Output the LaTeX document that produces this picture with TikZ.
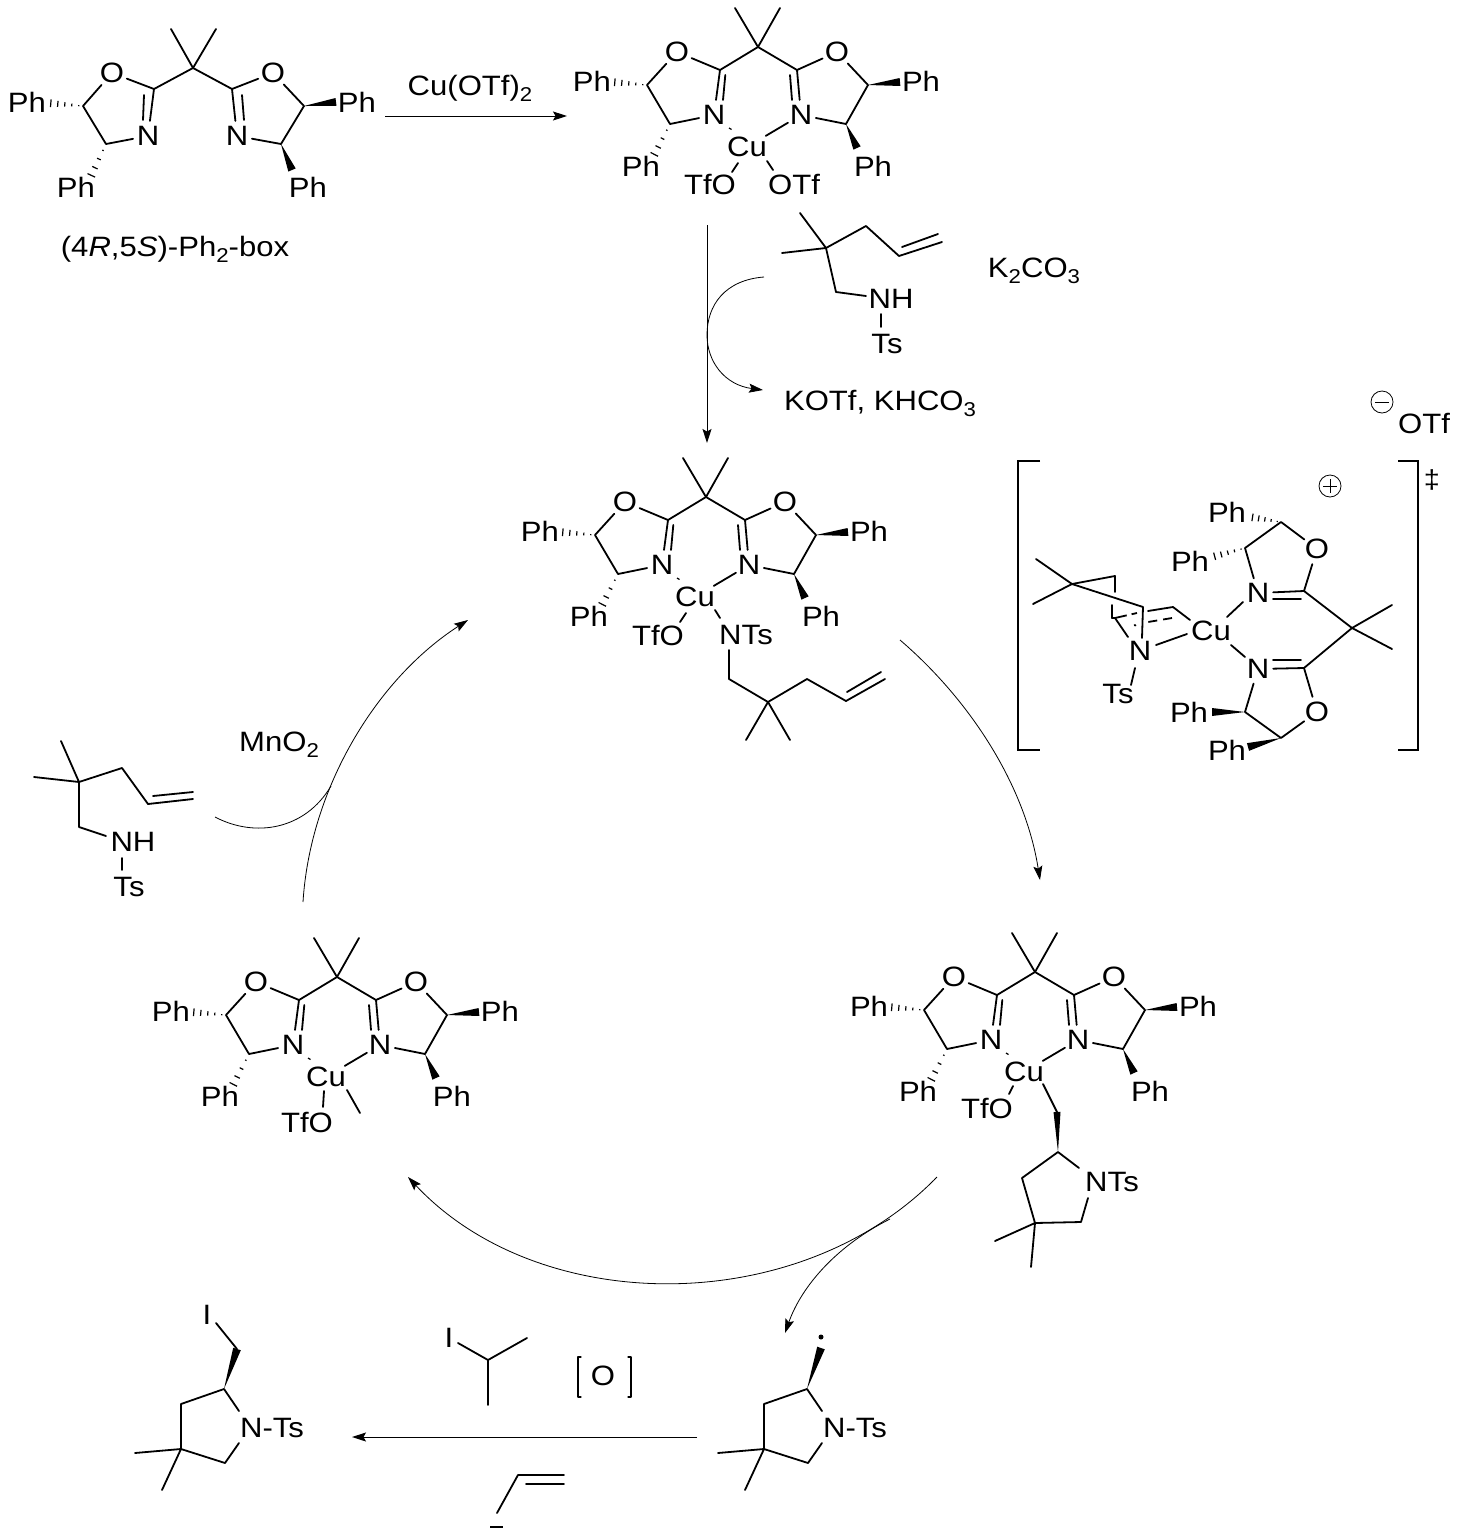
\documentclass[tikz,border=0pt]{standalone}
\usepackage{fontspec}
\setmainfont[FakeStretch=1.11]{Liberation Sans}
\usetikzlibrary{calc,arrows.meta}
\newcommand\chemsub[1]{\raisebox{-6pt}{\fontsize{20}{20}\selectfont #1}}
\newcommand\Cc[2]{\coordinate (#1) at (#2);}
\newcommand\hashbond[2]{\foreach \t/\w in {0.12/0.6,0.32/1.4,0.52/2.2,0.72/3.0,0.92/3.8}{\draw[hashline] ($(#1)!\t!(#2)!\w pt!90:(#2)$) -- ($(#1)!\t!(#2)!\w pt!-90:(#2)$);}}
\newcommand\hashshort[2]{\foreach \t/\w in {0.2/0.8,0.47/2.0,0.74/3.0,0.98/4.2}{\draw[hashline] ($(#1)!\t!(#2)!\w pt!90:(#2)$) -- ($(#1)!\t!(#2)!\w pt!-90:(#2)$);}}
\newcommand\wedgebond[2]{\fill (#1) -- ($(#2)!4pt!90:(#1)$) -- ($(#2)!4pt!-90:(#1)$) -- cycle;}
\newcommand\boxcore[3]{%
\begin{scope}[shift={(#1,#2)}]
\node[atom] (#3OL) at (677,52) {O};
\node[atom] (#3OR) at (837,52) {O};
\node[atom] (#3NL) at (714,115) {N};
\node[atom] (#3NR) at (801,115) {N};
\node[lab] (#3PhA) at (592,81) {Ph};
\node[lab] (#3PhB) at (921,81) {Ph};
\node[lab] (#3PhC) at (641,166) {Ph};
\node[lab] (#3PhD) at (873,166) {Ph};
\node[lab,inner sep=1pt] (#3Cu) at (747,147) {Cu};
\Cc{#3C}{758,47}\Cc{#3MA}{735,8}\Cc{#3MB}{780,8}
\Cc{#3CL}{720,70}\Cc{#3CR}{797,70}
\Cc{#3FL}{647,85}\Cc{#3GL}{670,124}
\Cc{#3FR}{868,85}\Cc{#3GR}{846,124}
\Cc{#3dLa}{725.3,75}\Cc{#3dLb}{723,100}
\Cc{#3dRa}{790,75}\Cc{#3dRb}{792,100}
\Cc{#3wA}{900,82}\Cc{#3wB}{857,148}
\Cc{#3hA}{612,82}\Cc{#3hB}{654,155}
\Cc{#3daA}{729,128}\Cc{#3daB}{731.5,129.5}
\draw[bond] (#3MA) -- (#3C) -- (#3MB);
\draw[bond] (#3CL) -- (#3C) -- (#3CR);
\draw[bond] (#3CL) -- (#3OL) -- (#3FL) -- (#3GL) -- (#3NL) -- (#3CL);
\draw[bond] (#3CR) -- (#3OR) -- (#3FR) -- (#3GR) -- (#3NR) -- (#3CR);
\draw[bond] (#3dLa) -- (#3dLb);
\draw[bond] (#3dRa) -- (#3dRb);
\draw[bond] (#3NR) -- (#3Cu);
\draw[hashline] (#3daA) -- (#3daB);
\wedgebond{#3FR}{#3wA}
\wedgebond{#3GR}{#3wB}
\hashbond{#3FL}{#3hA}
\hashshort{#3GL}{#3hB}
\end{scope}}
\tikzset{
 bond/.style={line width=1.8pt,line cap=round,line join=round},
 hashline/.style={line width=1.2pt},
 atom/.style={circle,inner sep=0pt,minimum size=30pt,font=\fontsize{28}{30}\selectfont},
 lab/.style={inner sep=0pt,font=\fontsize{28}{30}\selectfont},
 rxn/.style={line width=1pt,-{Stealth[length=14pt,width=9pt,inset=2.5pt]}},
 arcline/.style={line width=0.8pt},
 arcarrow/.style={line width=0.8pt,-{Stealth[length=14pt,width=9pt,inset=2.5pt]}},
 chg/.style={circle,draw,line width=0.8pt,minimum size=22pt,inner sep=0pt},
}
\begin{document}
\begin{tikzpicture}[x=1pt,y=-1pt]
\useasboundingbox (0,0) rectangle (1459,1537);
\fill[white] (0,0) rectangle (1459,1537);
% free ligand
\node[atom] (fOL) at (112,73) {O};
\node[atom] (fOR) at (273,73) {O};
\node[atom] (fNL) at (148,136) {N};
\node[atom] (fNR) at (237,136) {N};
\node[lab] (fPhA) at (27,102) {Ph};
\node[lab] (fPhB) at (357,102) {Ph};
\node[lab] (fPhC) at (76,187) {Ph};
\node[lab] (fPhD) at (308,187) {Ph};
\Cc{fC}{193,68}\Cc{fMA}{171,29}\Cc{fMB}{216,29}\Cc{fCL}{154,89}\Cc{fCR}{232,89}
\Cc{fFL}{83,106}\Cc{fGL}{106,144}\Cc{fFR}{304,106}\Cc{fGR}{281,144}
\Cc{fdA}{144,95}\Cc{fdB}{143,120}\Cc{fdC}{242,95}\Cc{fdD}{244,120}
\Cc{fwA}{336,102}\Cc{fwB}{292,170}\Cc{fhA}{48,103}\Cc{fhB}{91,176}
\draw[bond] (fMA) -- (fC) -- (fMB);
\draw[bond] (fCL) -- (fC) -- (fCR);
\draw[bond] (fCL) -- (fOL) -- (fFL) -- (fGL) -- (fNL) -- (fCL);
\draw[bond] (fCR) -- (fOR) -- (fFR) -- (fGR) -- (fNR) -- (fCR);
\draw[bond] (fdA) -- (fdB);
\draw[bond] (fdC) -- (fdD);
\wedgebond{fFR}{fwA}
\wedgebond{fGR}{fwB}
\hashbond{fFL}{fhA}
\hashshort{fGL}{fhB}
\node[lab] (fname) at (175,249) {(4\textit{R},5\textit{S})-Ph\chemsub{2}-box};
% top complex
\boxcore{0}{0}{t}
\node[lab] (tTfO) at (710,185) {TfO};
\node[lab] (tOTf) at (794,185) {OTf};
\Cc{taA}{738,163}\Cc{taB}{732,172}\Cc{tbA}{767,161}\Cc{tbB}{773,170}
\draw[bond] (taA) -- (taB);
\draw[bond] (tbA) -- (tbB);
% reagents at top
\node[lab] (cuotf) at (470,88) {Cu(OTf)\chemsub{2}};
\Cc{arAa}{385,116}\Cc{arAb}{567,116}
\draw[rxn] (arAa) -- (arAb);
\node[lab] (amNH) at (891,299) {NH};
\node[lab] (amTs) at (887,344) {Ts};
\node[lab] (kco) at (1034,271) {K\chemsub{2}CO\chemsub{3}};
\node[lab] (kotf) at (880,403) {KOTf, KHCO\chemsub{3}};
\Cc{aA}{782,253}\Cc{aB}{826,248}\Cc{aC}{800,213}\Cc{aD}{866,226}\Cc{aE}{899,256}\Cc{aF}{942,242}
\Cc{aG}{902,247}\Cc{aH}{938,234}\Cc{aI}{836,292}\Cc{aJ}{866,296}\Cc{aK}{881,314}\Cc{aL}{881,327}
\draw[bond] (aA) -- (aB) -- (aC);
\draw[bond] (aB) -- (aD) -- (aE) -- (aF);
\draw[bond] (aG) -- (aH);
\draw[bond] (aB) -- (aI) -- (aJ);
\draw[bond] (aK) -- (aL);
\Cc{arBa}{707,225}\Cc{arBb}{707,443}
\draw[rxn] (arBa) -- (arBb);
\Cc{arCa}{764,277}\Cc{arCm}{707,335}\Cc{arCb}{763,390}
\draw[arcarrow] (arCa) .. controls (725,280) and (707,305) .. (arCm) .. controls (707,362) and (725,385) .. (arCb);
% middle complex
\boxcore{-52}{450}{m}
\node[lab] (mTfO) at (658,635) {TfO};
\node[lab] (mNTs) at (746,635) {NTs};
\Cc{mA}{686,613}\Cc{mB}{680,622}\Cc{mC}{715,610}\Cc{mD}{720,618}
\Cc{mE}{729,650}\Cc{mF}{729,679}\Cc{mG}{768,702}\Cc{mH}{746,740}\Cc{mI}{790,740}
\Cc{mJ}{807,679}\Cc{mK}{846,701}\Cc{mL}{885,679}\Cc{mM}{847,692}\Cc{mN}{881,672}
\draw[bond] (mA) -- (mB);
\draw[bond] (mC) -- (mD);
\draw[bond] (mE) -- (mF) -- (mG) -- (mH);
\draw[bond] (mG) -- (mI);
\draw[bond] (mG) -- (mJ) -- (mK) -- (mL);
\draw[bond] (mM) -- (mN);
% transition state
\node[chg] (minusc) at (1382,402) {};
\draw[line width=0.8pt] ($(minusc.center)+(-7,0)$) -- ($(minusc.center)+(7,0)$);
\node[lab] (sOTf) at (1424,423) {OTf};
\node[chg] (plusc) at (1330,486) {};
\draw[line width=0.8pt] ($(plusc.center)+(-7,0)$) -- ($(plusc.center)+(7,0)$);
\draw[line width=0.8pt] ($(plusc.center)+(0,-7)$) -- ($(plusc.center)+(0,7)$);
\node[lab,font=\fontsize{26}{28}\selectfont] (dagger) at (1432,480) {‡};
\Cc{brA}{1040,461}\Cc{brB}{1018,461}\Cc{brC}{1018,750}\Cc{brD}{1040,750}
\Cc{brE}{1398,461}\Cc{brF}{1418,461}\Cc{brG}{1418,750}\Cc{brH}{1398,750}
\draw[bond,line cap=butt,line join=miter] (brA) -- (brB) -- (brC) -- (brD);
\draw[bond,line cap=butt,line join=miter] (brE) -- (brF) -- (brG) -- (brH);
\node[lab] (sPhA) at (1227,512) {Ph};
\node[lab] (sPhB) at (1190,561) {Ph};
\node[atom] (sOA) at (1317,549) {O};
\node[atom] (sNA) at (1258,593) {N};
\node[atom] (sNB) at (1258,669) {N};
\node[atom] (sOB) at (1317,712) {O};
\node[lab] (sPhC) at (1189,712) {Ph};
\node[lab] (sPhD) at (1227,750) {Ph};
\node[lab] (sCu) at (1211,631) {Cu};
\node[lab] (sNC) at (1140,651) {N};
\node[lab] (sTs) at (1118,694) {Ts};
\Cc{sF}{1281,522}\Cc{sG}{1245,548}\Cc{sK}{1304,591}\Cc{sC}{1352,628}\Cc{sMA}{1392,605}\Cc{sMB}{1392,649}
\Cc{sL}{1304,668}\Cc{sH}{1245,712}\Cc{sI}{1281,738}
\Cc{sdA}{1273,599}\Cc{sdB}{1301,599}\Cc{sdC}{1273,660}\Cc{sdD}{1301,660}
\Cc{shA}{1250,517}\Cc{shB}{1212,557}\Cc{swA}{1212,712}\Cc{swB}{1248,747}
\Cc{sbA}{1227,617}\Cc{sbB}{1243,602}\Cc{sbC}{1231,645}\Cc{sbD}{1245,657}\Cc{sbE}{1156,645}\Cc{sbF}{1187,634}
\draw[bond] (sF) -- (sOA) -- (sK) -- (sNA) -- (sG) -- (sF);
\draw[bond] (sI) -- (sOB) -- (sL) -- (sNB) -- (sH) -- (sI);
\draw[bond] (sdA) -- (sdB);
\draw[bond] (sdC) -- (sdD);
\draw[bond] (sMA) -- (sC) -- (sMB);
\draw[bond] (sK) -- (sC) -- (sL);
\draw[bond] (sbA) -- (sbB);
\draw[bond] (sbC) -- (sbD);
\draw[bond] (sbE) -- (sbF);
\hashbond{sF}{shA}
\hashbond{sG}{shB}
\wedgebond{sH}{swA}
\wedgebond{sI}{swB}
\Cc{qA}{1036,559}\Cc{qB}{1072,584}\Cc{qC}{1033,604}\Cc{qD}{1115,576}\Cc{qE}{1115,592}
\Cc{qF}{1112,605}\Cc{qG}{1112,618}\Cc{qH}{1143,607}\Cc{qI}{1142,638}\Cc{qJ}{1148,611}\Cc{qK}{1173,607}\Cc{qL}{1190,620}
\Cc{qM}{1148,622}\Cc{qN}{1172,618}\Cc{qO}{1115,618}\Cc{qP}{1137,613}\Cc{qQ}{1128,637}\Cc{qR}{1135,668}\Cc{qS}{1131,685}
\Cc{qT}{1134.5,625}\Cc{qU}{1135.5,625.5}
\draw[bond] (qA) -- (qB) -- (qC);
\draw[bond] (qB) -- (qD) -- (qE);
\draw[bond] (qF) -- (qG);
\draw[bond] (qB) -- (qH) -- (qI);
\draw[bond] (qJ) -- (qK) -- (qL);
\draw[bond,dash pattern=on 9pt off 6pt,line cap=butt] (qN) -- (qM);
\draw[bond] (qG) -- (qO);
\draw[bond,dash pattern=on 12pt off 5pt,line cap=butt] (qO) -- (qP);
\draw[bond] (qO) -- (qQ);
\draw[bond] (qT) -- (qU);
\draw[bond] (qR) -- (qS);
% right arc
\Cc{arDa}{900,640}\Cc{arDb}{1040,880}
\draw[arcarrow] (arDa) .. controls (970,700) and (1025,785) .. (arDb);
% left arcs
\Cc{arEa}{303,902}\Cc{arEb}{468,620}
\draw[arcarrow] (arEa) .. controls (310,790) and (375,680) .. (arEb);
\Cc{arFa}{215,817}\Cc{arFb}{331,786}
\draw[arcline] (arFa) .. controls (255,838) and (305,830) .. (arFb);
\node[lab] (mno) at (279,745) {MnO\chemsub{2}};
% left amine
\node[lab] (lNH) at (133,842) {NH};
\node[lab] (lTs) at (129,887) {Ts};
\Cc{lA}{34,777}\Cc{lB}{79,782}\Cc{lC}{61,741}\Cc{lD}{122,768}\Cc{lE}{148,804}\Cc{lF}{193,799}
\Cc{lG}{153,796}\Cc{lH}{193,792}\Cc{lI}{79,827}\Cc{lJ}{106,836}\Cc{lK}{122,858}\Cc{lL}{122,870}
\draw[bond] (lA) -- (lB) -- (lC);
\draw[bond] (lB) -- (lD) -- (lE) -- (lF);
\draw[bond] (lG) -- (lH);
\draw[bond] (lB) -- (lI) -- (lJ);
\draw[bond] (lK) -- (lL);
% bottom right complex
\boxcore{277}{925}{r}
\node[lab] (rTfO) at (987,1108) {TfO};
\node[lab] (rNTs) at (1112,1182) {NTs};
\Cc{rA}{1013,1086}\Cc{rB}{1009,1094}\Cc{rD}{1043,1084}\Cc{rE}{1057,1112}\Cc{rF}{1058,1152}
\Cc{rG}{1079,1168}\Cc{rH}{1088,1198}\Cc{rI}{1081,1222}\Cc{rJ}{1035,1223}\Cc{rK}{1022,1178}\Cc{rL}{995,1241}\Cc{rM}{1031,1267}
\draw[bond] (rA) -- (rB);
\draw[bond] (rD) -- (rE);
\fill (rF) -- ($(rE)!3.5pt!90:(rF)$) -- ($(rE)!3.5pt!-90:(rF)$) -- cycle;
\draw[bond] (rG) -- (rF) -- (rK) -- (rJ) -- (rI) -- (rH);
\draw[bond] (rL) -- (rJ) -- (rM);
% bottom left complex
\boxcore{-421}{930}{b}
\node[lab] (bTfO) at (307,1122) {TfO};
\Cc{bA}{324,1091}\Cc{bB}{323,1107}\Cc{bD}{347,1090}\Cc{bE}{360,1113}
\draw[bond] (bA) -- (bB);
\draw[bond] (bD) -- (bE);
% big bottom arcs
\Cc{arGa}{937,1177}\Cc{arGb}{408,1177}
\draw[arcarrow] (arGa) .. controls (800,1318) and (540,1318) .. (arGb);
\Cc{arHa}{890,1219}\Cc{arHb}{785,1333}
\draw[arcarrow] (arHa) .. controls (838,1245) and (802,1285) .. (arHb);
% bottom pyrrolidines
\foreach \p/\dx in {u/0,v/583}{
\begin{scope}[xshift=\dx pt]
\node[lab] (\p Lb) at (272,1428) {N-Ts};
\Cc{\p A}{224,1389}\Cc{\p B}{181,1404}\Cc{\p C}{181,1449}\Cc{\p D}{225,1463}
\Cc{\p E}{239,1443}\Cc{\p F}{239,1411}\Cc{\p G}{135,1453}\Cc{\p H}{162,1490}
\draw[bond] (\p F) -- (\p A) -- (\p B) -- (\p C) -- (\p D) -- (\p E);
\draw[bond] (\p G) -- (\p C) -- (\p H);
\end{scope}}
\Cc{uW}{237,1349}\Cc{uX}{216,1323}
\node[lab] (uI) at (207,1315) {I};
\fill (uA) -- ($(uW)!4pt!90:(uA)$) -- ($(uW)!4pt!-90:(uA)$) -- cycle;
\draw[bond] (uX) -- (uW);
\Cc{vW}{821,1348}
\fill (vA) -- ($(vW)!4pt!90:(vA)$) -- ($(vW)!4pt!-90:(vA)$) -- cycle;
\Cc{vDot}{821,1337}
\fill (vDot) circle (2.5pt);
% bottom arrow and reagents
\Cc{arIa}{697,1437}\Cc{arIb}{352,1437}
\draw[rxn] (arIa) -- (arIb);
\node[lab] (rgI) at (449,1338) {I};
\Cc{gA}{458,1343}\Cc{gB}{488,1360}\Cc{gC}{527,1338}\Cc{gD}{488,1405}
\draw[bond] (gA) -- (gB) -- (gC);
\draw[bond] (gB) -- (gD);
\node[lab] (rgO) at (603,1376) {O};
\Cc{oA}{581,1357}\Cc{oB}{578,1357}\Cc{oC}{578,1397}\Cc{oD}{581,1397}
\Cc{oE}{628,1357}\Cc{oF}{631,1357}\Cc{oG}{631,1397}\Cc{oH}{628,1397}
\draw[bond,line width=1.2pt] (oA) -- (oB) -- (oC) -- (oD);
\draw[bond,line width=1.2pt] (oE) -- (oF) -- (oG) -- (oH);
\Cc{yA}{497,1513}\Cc{yB}{518,1475}\Cc{yC}{564,1475}\Cc{yD}{526,1484}\Cc{yE}{564,1484}\Cc{yF}{490,1527}\Cc{yG}{503,1527}
\draw[bond] (yA) -- (yB) -- (yC);
\draw[bond] (yD) -- (yE);
\draw[bond,line cap=butt,line width=2.2pt] (yF) -- (yG);
\end{tikzpicture}
\end{document}
